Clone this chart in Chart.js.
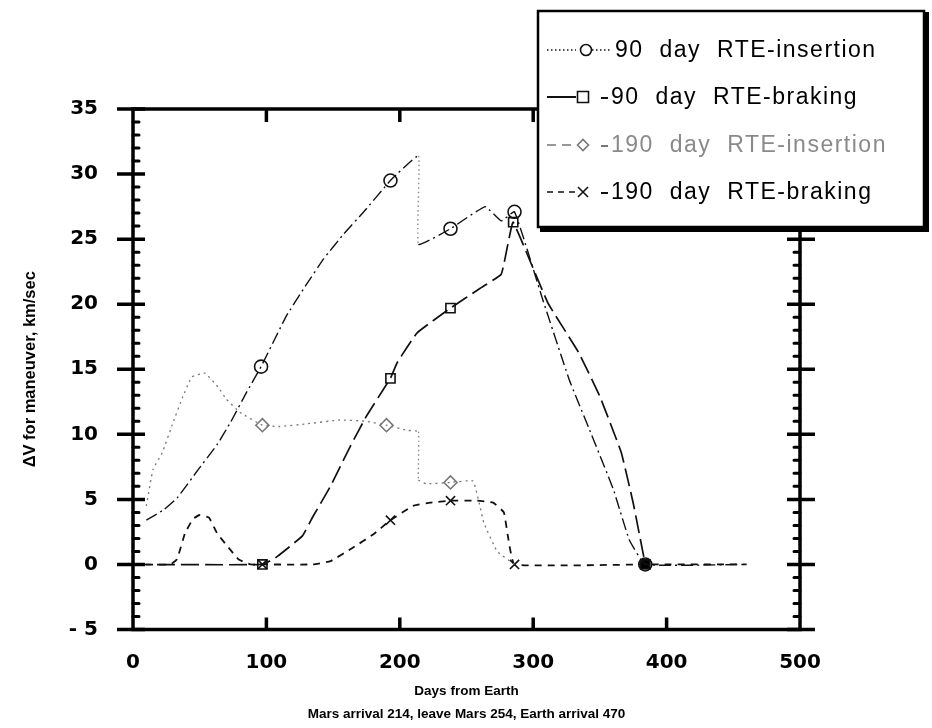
<!DOCTYPE html>
<html>
<head>
<meta charset="utf-8">
<script src="https://cdn.jsdelivr.net/npm/chart.js@4.4.0/dist/chart.umd.min.js"></script>
<style>
  html, body { margin: 0; padding: 0; background: #fff; }
</style>
</head>
<body>
<canvas id="dvChart" width="932" height="728"></canvas>
<script>
  // Days from Earth departure and delta-V (km/sec) for each maneuver curve
  const ins90Days  = [10, 23, 33, 49, 63, 73, 85, 96, 115, 128, 143, 158, 173, 193, 214, 214, 238, 264, 276, 286, 307, 327, 342, 360, 372, 384, 460];
  const ins90Dv    = [3.4, 4.2, 5.1, 7.3, 9.2, 10.9, 13.2, 15.2, 19.1, 21.2, 23.5, 25.4, 27.1, 29.5, 31.4, 24.6, 25.8, 27.5, 26.4, 27.1, 20.4, 14.2, 10.4, 5.8, 1.9, 0, 0];
  const ins90Marks = [96, 193, 238, 286, 384];

  const brk90Days  = [0, 97, 108, 127, 135, 148, 163, 175, 188, 193, 198, 213, 238, 260, 276, 281, 285, 311, 334, 350, 366, 375, 384];
  const brk90Dv    = [0, 0, 0.6, 2.2, 3.7, 6.0, 9.1, 11.4, 13.5, 14.3, 15.5, 17.8, 19.7, 21.2, 22.3, 24.6, 26.3, 20.1, 16.3, 12.9, 8.6, 4.7, 0];
  const brk90Marks = [97, 193, 238, 285, 384];

  const ins190Days  = [10, 15, 22, 30, 37, 44, 54, 64, 70, 80, 97, 110, 130, 155, 175, 190, 206, 214, 214, 220, 238, 255, 263, 273, 286];
  const ins190Dv    = [4.5, 7.3, 8.6, 10.9, 12.8, 14.4, 14.7, 13.6, 12.7, 11.7, 10.7, 10.6, 10.8, 11.1, 11.0, 10.7, 10.3, 10.2, 6.5, 6.2, 6.3, 6.4, 3.2, 1.0, 0];
  const ins190Marks = [97, 190, 238];

  const brk190Days  = [0, 28, 33, 39, 45, 50, 57, 63, 70, 79, 88, 97, 135, 148, 165, 180, 193, 210, 223, 238, 258, 270, 278, 281, 286, 384, 460];
  const brk190Dv    = [0, 0, 0.4, 2.4, 3.5, 3.8, 3.6, 2.4, 1.5, 0.4, 0, 0, 0, 0.25, 1.3, 2.3, 3.4, 4.5, 4.75, 4.9, 4.9, 4.75, 4.0, 2.2, 0, 0, 0];
  const brk190Marks = [97, 193, 238, 286, 384];

  const xTicks = [0, 100, 200, 300, 400, 500];
  const yRange = [-5, 35];
  const earthReturnDay = 384;

  function toPoints(days, dv) {
    return days.map((d, i) => ({ x: d, y: dv[i] }));
  }

  // only the listed days carry a marker, the rest is just the curve
  function markerAt(marks, r) {
    return ctx => (ctx.raw && marks.includes(ctx.raw.x) ? r : 0);
  }

  function makeSet(label, days, dv, marks, style) {
    return {
      label: label,
      data: toPoints(days, dv),
      showLine: true,
      borderColor: style.color,
      borderWidth: style.width,
      borderDash: style.dash,
      tension: 0.1,
      pointStyle: style.point,
      pointRadius: markerAt(marks, 6.5),
      pointHoverRadius: 0,
      pointBorderWidth: 1.6,
      pointBorderColor: style.color,
      pointBackgroundColor: style.fill || 'rgba(0,0,0,0)',
      sampleDash: style.sampleDash,
      textColor: style.text,
      // the jump at Mars arrival is drawn as a faint dotted drop
      segment: {
        borderDash: c => (c.p0.parsed.x === c.p1.parsed.x ? [1.5, 3] : undefined),
        borderColor: c => (c.p0.parsed.x === c.p1.parsed.x ? '#888' : undefined)
      }
    };
  }

  const datasets = [
    makeSet('90 day RTE-insertion', ins90Days, ins90Dv, ins90Marks,
      { color: '#111', width: 1.4, dash: [12, 4, 2, 4], point: 'circle', sampleDash: [1.5, 2.5], text: '#000' }),
    makeSet('90 day RTE-braking', brk90Days, brk90Dv, brk90Marks,
      { color: '#111', width: 1.7, dash: [18, 6], point: 'rect', sampleDash: [], text: '#000',
        fill: c => (c.raw && c.raw.x === earthReturnDay ? '#000' : 'rgba(0,0,0,0)') }),
    makeSet('190 day RTE-insertion', ins190Days, ins190Dv, ins190Marks,
      { color: '#777', width: 1.3, dash: [2, 4], point: 'rectRot', sampleDash: [9, 6], text: '#8a8a8a' }),
    makeSet('190 day RTE-braking', brk190Days, brk190Dv, brk190Marks,
      { color: '#111', width: 1.8, dash: [7, 6], point: 'crossRot', sampleDash: [6, 5], text: '#000' })
  ];

  // box frame with the old-style tick marks on all four sides
  const framePlugin = {
    id: 'frame',
    afterDatasetsDraw(chart) {
      const { ctx, chartArea: a, scales: { x, y } } = chart;
      ctx.save();
      ctx.strokeStyle = '#000';
      ctx.lineWidth = 3.5;
      ctx.strokeRect(a.left, a.top, a.right - a.left, a.bottom - a.top);
      for (let v = y.min; v <= y.max; v++) {
        const py = y.getPixelForValue(v);
        ctx.beginPath();
        if (v % 5 === 0) {
          ctx.lineWidth = 3.5;
          ctx.lineCap = 'butt';
          ctx.moveTo(a.left - 16, py); ctx.lineTo(a.left + 12, py);
          ctx.moveTo(a.right - 13, py); ctx.lineTo(a.right + 15, py);
        } else {
          ctx.lineWidth = 3;
          ctx.lineCap = 'round';
          ctx.moveTo(a.left, py); ctx.lineTo(a.left + 6, py);
          ctx.moveTo(a.right - 6, py); ctx.lineTo(a.right, py);
        }
        ctx.stroke();
      }
      ctx.lineCap = 'butt';
      ctx.lineWidth = 3.5;
      x.ticks.forEach(t => {
        if (t.value <= x.min || t.value >= x.max) return;
        const px = x.getPixelForValue(t.value);
        ctx.beginPath();
        ctx.moveTo(px, a.bottom); ctx.lineTo(px, a.bottom - 12);
        ctx.moveTo(px, a.top); ctx.lineTo(px, a.top + 13);
        ctx.stroke();
      });
      ctx.restore();
    }
  };

  function drawMarker(ctx, style, cx, cy, r) {
    ctx.beginPath();
    if (style === 'circle') {
      ctx.arc(cx, cy, r, 0, Math.PI * 2);
      ctx.fill(); ctx.stroke();
    } else if (style === 'rect') {
      ctx.rect(cx - r, cy - r, 2 * r, 2 * r);
      ctx.fill(); ctx.stroke();
    } else if (style === 'rectRot') {
      ctx.moveTo(cx - r, cy); ctx.lineTo(cx, cy - r); ctx.lineTo(cx + r, cy); ctx.lineTo(cx, cy + r);
      ctx.closePath();
      ctx.fill(); ctx.stroke();
    } else {
      ctx.moveTo(cx - r, cy - r); ctx.lineTo(cx + r, cy + r);
      ctx.moveTo(cx + r, cy - r); ctx.lineTo(cx - r, cy + r);
      ctx.stroke();
    }
  }

  // boxed key in the upper right, drawn over the frame
  const keyPlugin = {
    id: 'keyBox',
    afterDraw(chart) {
      const ctx = chart.ctx;
      const rows = [50, 97, 145, 192];
      ctx.save();
      ctx.fillStyle = '#fff';
      ctx.fillRect(537, 10, 391, 220);
      ctx.strokeStyle = '#000';
      ctx.lineWidth = 2.5;
      ctx.strokeRect(538, 11, 386, 216);
      ctx.lineWidth = 6;
      ctx.beginPath();
      ctx.moveTo(926, 12); ctx.lineTo(926, 229); ctx.lineTo(540, 229);
      ctx.stroke();

      chart.data.datasets.forEach((ds, i) => {
        const yy = rows[i];
        ctx.strokeStyle = ds.borderColor;
        ctx.lineWidth = i === 1 ? 2 : 1.6;
        ctx.setLineDash(ds.sampleDash);
        ctx.beginPath();
        ctx.moveTo(547, yy); ctx.lineTo(576, yy);
        if (i === 0) { ctx.moveTo(592, yy); ctx.lineTo(612, yy); }
        ctx.stroke();
        ctx.setLineDash([]);
        if (i > 0) {
          ctx.lineWidth = 2;
          ctx.beginPath();
          ctx.moveTo(601, yy + 1); ctx.lineTo(608, yy + 1);
          ctx.stroke();
        }
        ctx.fillStyle = '#fff';
        ctx.lineWidth = 1.6;
        drawMarker(ctx, ds.pointStyle, i === 0 ? 586 : 583, yy, i === 3 ? 5 : 5.5);
        ctx.fillStyle = ds.textColor;
        ctx.font = '23px "Liberation Sans"';
        ctx.letterSpacing = '1.5px';
        ctx.wordSpacing = '8px';
        ctx.textBaseline = 'middle';
        ctx.textAlign = 'left';
        ctx.fillText(ds.label, i === 0 ? 615 : 611, yy + 1);
      });
      ctx.restore();
    }
  };

  const tickFont = { family: 'DejaVu Sans', size: 20, weight: 'bold' };

  const config = {
    type: 'scatter',
    data: { datasets: datasets },
    options: {
      responsive: false,
      animation: false,
      layout: { padding: { top: 109, right: 132, left: 0, bottom: 0 } },
      plugins: {
        legend: { display: false },
        tooltip: { enabled: false }
      },
      scales: {
        x: {
          type: 'linear',
          min: xTicks[0],
          max: xTicks[xTicks.length - 1],
          afterFit: s => { s.height = 98.5; },
          afterBuildTicks: s => { s.ticks = xTicks.map(v => ({ value: v })); },
          grid: { display: false, drawTicks: false },
          border: { display: false },
          ticks: { padding: 21, color: '#000', font: tickFont, maxRotation: 0 },
          title: {
            display: true,
            text: ['Days from Earth', 'Mars arrival 214, leave Mars 254, Earth arrival 470'],
            color: '#000',
            font: { family: 'Liberation Sans', size: 13.5, weight: 'bold', lineHeight: 1.65 },
            padding: { top: 0, bottom: 3 }
          }
        },
        y: {
          type: 'linear',
          min: yRange[0],
          max: yRange[1],
          afterFit: s => { s.width = 133; },
          grid: { display: false, drawTicks: false },
          border: { display: false },
          ticks: {
            stepSize: 5,
            padding: 35,
            color: '#000',
            font: tickFont,
            callback: v => (v < 0 ? '- ' + (-v) : String(v))
          },
          title: {
            display: true,
            text: 'ΔV for maneuver, km/sec',
            color: '#000',
            font: { family: 'Liberation Sans', size: 16.5, weight: 'bold', lineHeight: 1.2 },
            padding: { top: 21, bottom: 0 }
          }
        }
      }
    },
    plugins: [framePlugin, keyPlugin]
  };

  const dvChart = new Chart(document.getElementById('dvChart'), config);
</script>
</body>
</html>
